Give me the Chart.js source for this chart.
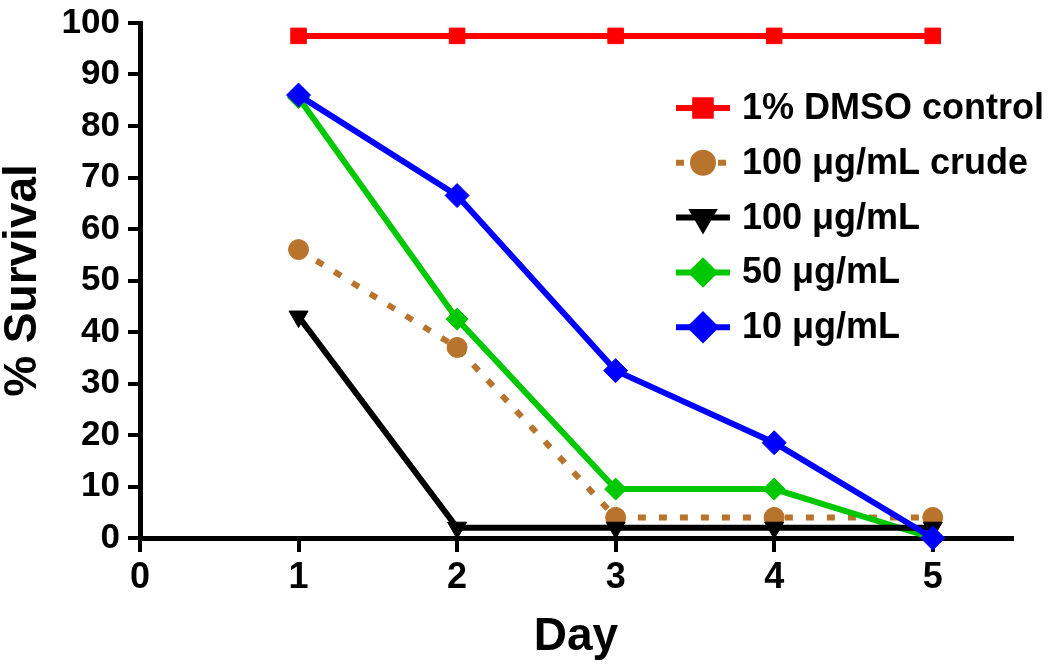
<!DOCTYPE html>
<html>
<head>
<meta charset="utf-8">
<script src="https://cdn.jsdelivr.net/npm/chart.js@4"></script>
<style>
  body { margin: 0; background: #fff; }
  #wrap { width: 1050px; height: 665px; }
</style>
</head>
<body>
<div id="wrap"><canvas id="survChart"></canvas></div>
<script>
// Data
const days = [1, 2, 3, 4, 5];
const dmso = [97.5, 97.5, 97.5, 97.5, 97.5];
const crude100 = [56, 37, 4, 4, 4];
const pure100 = [43, 2, 2, 2, 2];
const pure50 = [85.5, 42.5, 9.5, 9.5, 0];
const pure10 = [86, 66.5, 32.5, 18.5, 0];
const seriesLabels = ['1% DMSO control', '100 \u03bcg/mL crude', '100 \u03bcg/mL', '50 \u03bcg/mL', '10 \u03bcg/mL'];
const yTicks = [0, 10, 20, 30, 40, 50, 60, 70, 80, 90, 100];

const FONT = '"Liberation Sans", Arial, sans-serif';

function pts(vals) {
    return vals.map((v, i) => ({ x: days[i], y: v }));
}

// Legend drawn inside the plot area
const innerLegend = {
    id: 'innerLegend',
    afterDraw(chart) {
        const ctx = chart.ctx;
        const x0 = 676, x1 = 730, tx = 742;
        let y = 108;
        chart.data.datasets.forEach(ds => {
            ctx.save();
            ctx.strokeStyle = ds.borderColor;
            ctx.lineWidth = ds.borderWidth;
            ctx.setLineDash(ds.borderDash || []);
            ctx.beginPath();
            ctx.moveTo(x0, y);
            ctx.lineTo(x1, y);
            ctx.stroke();
            ctx.setLineDash([]);
            ctx.fillStyle = ds.pointBackgroundColor;
            ctx.strokeStyle = ds.pointBackgroundColor;
            Chart.helpers.drawPoint(ctx, {
                pointStyle: ds.pointStyle,
                radius: ds.pointRadius,
                rotation: ds.pointRotation || 0,
                borderWidth: 1
            }, (x0 + x1) / 2, y);
            ctx.fillStyle = '#000';
            ctx.font = 'bold 36px ' + FONT;
            ctx.textBaseline = 'middle';
            ctx.fillText(ds.label, tx, y + 1);
            ctx.restore();
            y += 54.8;
        });
    }
};

const ctx = document.getElementById('survChart').getContext('2d');
const survChart = new Chart(ctx, {
    type: 'line',
    data: {
        datasets: [
            { label: seriesLabels[0], data: pts(dmso), borderColor: '#ff0000', pointBackgroundColor: '#ff0000',
              borderWidth: 6, pointStyle: 'rect', pointRadius: 11, order: 5 },
            { label: seriesLabels[1], data: pts(crude100), borderColor: '#b8732c', pointBackgroundColor: '#b8732c',
              borderWidth: 6, borderDash: [8, 13], pointStyle: 'circle', pointRadius: 10, order: 4 },
            { label: seriesLabels[2], data: pts(pure100), borderColor: '#000000', pointBackgroundColor: '#000000',
              borderWidth: 6, pointStyle: 'triangle', pointRotation: 180, pointRadius: 11, order: 2 },
            { label: seriesLabels[3], data: pts(pure50), borderColor: '#00c800', pointBackgroundColor: '#00c800',
              borderWidth: 6, pointStyle: 'rectRot', pointRadius: 11, order: 3 },
            { label: seriesLabels[4], data: pts(pure10), borderColor: '#0000ff', pointBackgroundColor: '#0000ff',
              borderWidth: 6, pointStyle: 'rectRot', pointRadius: 12, order: 1 }
        ].map(d => Object.assign(d, {
            pointBorderColor: d.borderColor,
            pointBorderWidth: 1,
            pointHoverRadius: d.pointRadius,
            tension: 0,
            fill: false,
            clip: false
        }))
    },
    options: {
        responsive: true,
        maintainAspectRatio: false,
        animation: false,
        devicePixelRatio: 1,
        layout: { padding: { top: 23, right: 38, bottom: 0, left: 0 } },
        plugins: { legend: { display: false }, tooltip: { enabled: false } },
        scales: {
            x: {
                type: 'linear',
                min: 0,
                max: 5.5,
                afterFit: s => { s.height = 127; s.paddingLeft = 0; s.paddingRight = 0; },
                ticks: { stepSize: 1, includeBounds: false, color: '#000', padding: 4,
                         font: { family: FONT, size: 36, weight: 'bold' } },
                grid: { drawOnChartArea: false, drawTicks: true, tickLength: 14, color: '#000', lineWidth: 4 },
                border: { display: true, color: '#000', width: 5 },
                title: { display: true, text: 'Day', color: '#000', padding: { top: 0, bottom: 0 },
                         font: { family: FONT, size: 46, weight: 'bold' } }
            },
            y: {
                min: 0,
                max: 100,
                afterFit: s => { s.width = 140; s.paddingTop = 0; s.paddingBottom = 0; },
                afterBuildTicks: s => { s.ticks = yTicks.map(v => ({ value: v })); },
                ticks: { color: '#000', padding: 8,
                         font: { family: FONT, size: 35, weight: 'bold' } },
                grid: { drawOnChartArea: false, drawTicks: true, tickLength: 12, color: '#000', lineWidth: 4 },
                border: { display: true, color: '#000', width: 5 },
                title: { display: true, text: '% Survival', color: '#000', padding: { top: 0, bottom: 0 },
                         font: { family: FONT, size: 46, weight: 'bold', lineHeight: 1.0 } }
            }
        }
    },
    plugins: [innerLegend]
});
</script>
</body>
</html>
